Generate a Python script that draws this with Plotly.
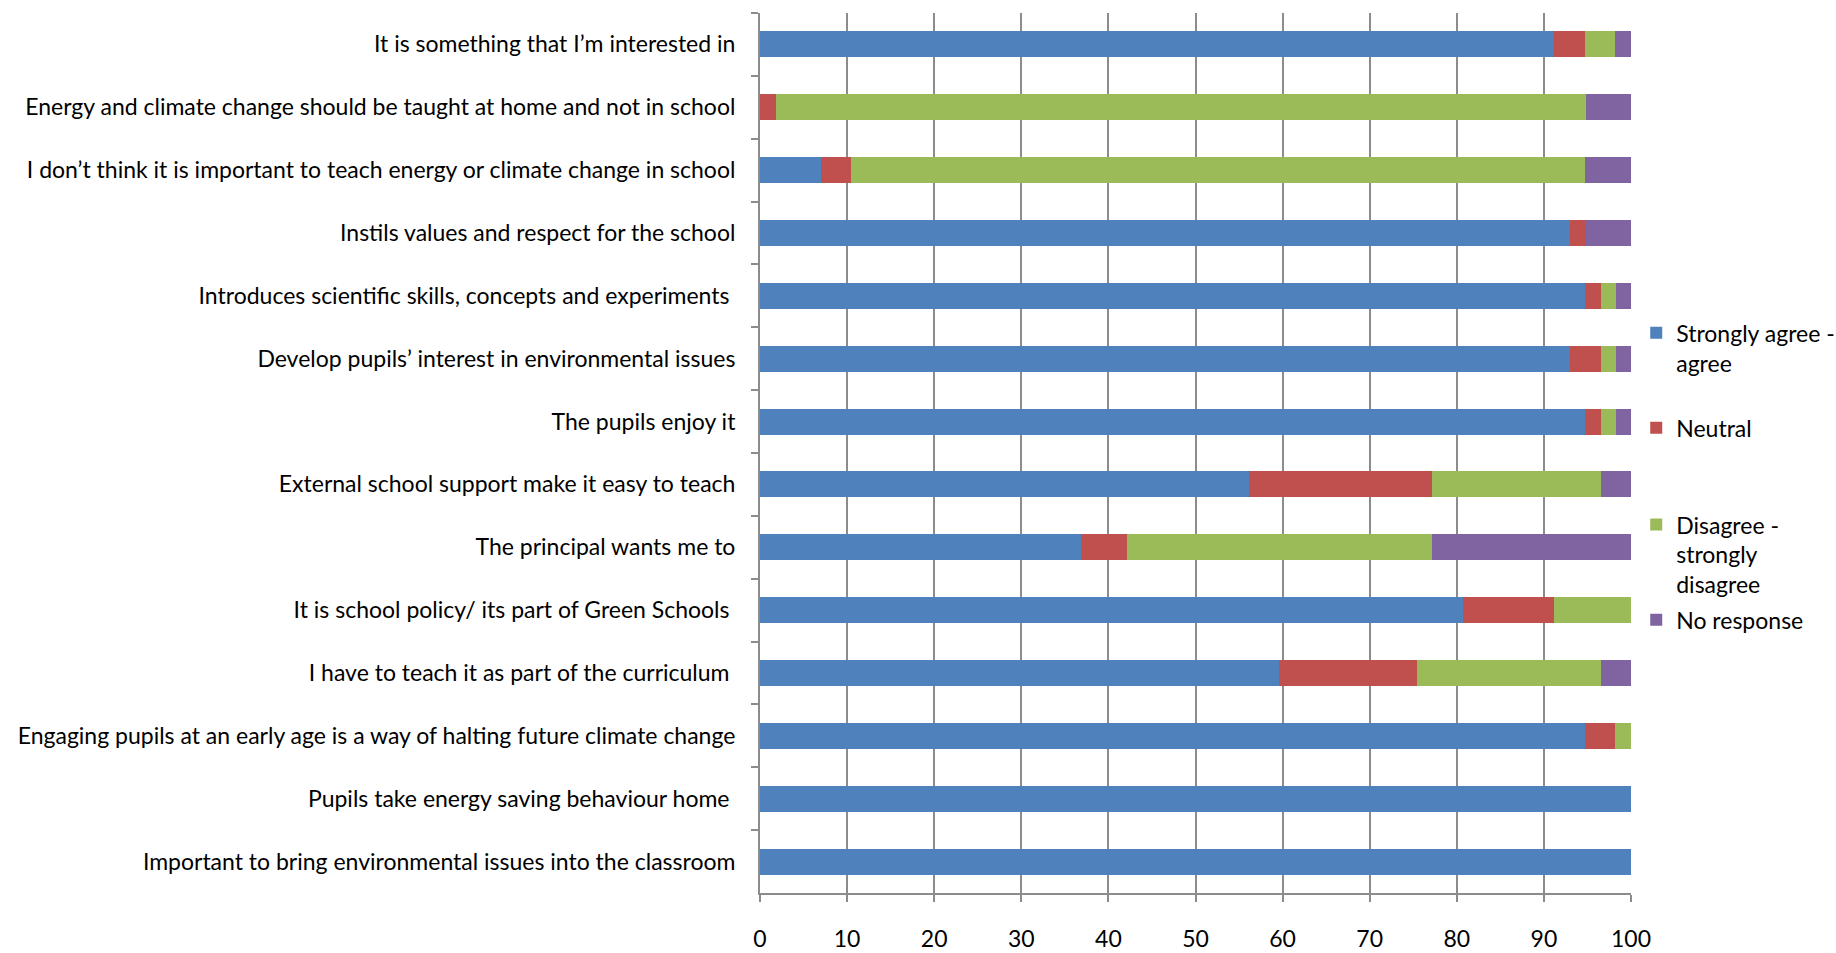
import plotly.graph_objects as go

# Survey statements, listed top to bottom as they appear on the chart
statements = [
    "It is something that I\u2019m interested in",
    "Energy and climate change should be taught at home and not in school",
    "I don\u2019t think it is important to teach energy or climate change in school",
    "Instils values and respect for the school",
    "Introduces scientific skills, concepts and experiments\u00a0",
    "Develop pupils\u2019 interest in environmental issues",
    "The pupils enjoy it",
    "External school support make it easy to teach",
    "The principal wants me to",
    "It is school policy/ its part of Green Schools\u00a0",
    "I have to teach it as part of the curriculum\u00a0",
    "Engaging pupils at an early age is a way of halting future climate change",
    "Pupils take energy saving behaviour home\u00a0",
    "Important to bring environmental issues into the classroom",
]

# Percentage of responses per statement
agree = [91.2, 0.0, 7.0, 93.0, 94.7, 93.0, 94.7, 56.1, 36.8, 80.7, 59.6, 94.7, 100.0, 100.0]
neutral = [3.5, 1.8, 3.5, 1.8, 1.8, 3.5, 1.8, 21.1, 5.3, 10.5, 15.8, 3.5, 0.0, 0.0]
disagree = [3.5, 93.0, 84.2, 0.0, 1.8, 1.8, 1.8, 19.3, 35.1, 8.8, 21.1, 1.8, 0.0, 0.0]
no_response = [1.8, 5.3, 5.3, 5.3, 1.8, 1.8, 1.8, 3.5, 22.8, 0.0, 3.5, 0.0, 0.0, 0.0]

series = [
    ("Strongly agree -<br>agree", agree, "#4F81BD", "legend"),
    ("Neutral", neutral, "#C0504D", "legend2"),
    ("Disagree -<br>strongly<br>disagree", disagree, "#9BBB59", "legend3"),
    ("No response", no_response, "#8064A2", "legend4"),
]

FONT = "Lato, 'Liberation Sans', sans-serif"
FS = 23

fig = go.Figure()
for name, vals, color, lg in series:
    fig.add_trace(go.Bar(
        y=statements, x=vals, name=name, orientation="h",
        marker=dict(color=color, line=dict(width=0)),
        legend=lg, showlegend=True,
    ))

legend_style = dict(
    font=dict(family=FONT, size=FS, color="#000000"),
    bgcolor="rgba(0,0,0,0)", xanchor="left", yanchor="top",
    valign="top", itemwidth=30, tracegroupgap=0,
)

fig.update_layout(
    width=1836, height=953,
    showlegend=True,
    barmode="stack", bargap=0.585,
    plot_bgcolor="#FFFFFF", paper_bgcolor="#FFFFFF",
    margin=dict(l=760, r=205, t=13, b=60, autoexpand=False),
    font=dict(family=FONT, size=FS, color="#000000"),
    legend=dict(x=1.006, y=0.661, **legend_style),
    legend2=dict(x=1.006, y=0.553, **legend_style),
    legend3=dict(x=1.006, y=0.443, **legend_style),
    legend4=dict(x=1.006, y=0.335, **legend_style),
    xaxis=dict(
        range=[0, 100], dtick=10, tick0=0,
        showgrid=True, gridcolor="#8C8C8C", gridwidth=1.5,
        showline=True, linecolor="#8C8C8C", linewidth=2,
        ticks="outside", ticklen=7, tickcolor="#8C8C8C", tickwidth=1.5,
        ticklabelstandoff=17, zeroline=False,
        tickfont=dict(family=FONT, size=FS, color="#000000"),
        fixedrange=True,
    ),
    yaxis=dict(
        autorange="reversed", type="category",
        showline=True, linecolor="#8C8C8C", linewidth=2,
        ticks="outside", ticklen=7, tickcolor="#8C8C8C", tickwidth=1.5,
        tickson="boundaries", showgrid=False,
        ticklabelstandoff=18,
        tickfont=dict(family=FONT, size=FS, color="#000000"),
        fixedrange=True,
    ),
)

fig.write_html("out.html")
